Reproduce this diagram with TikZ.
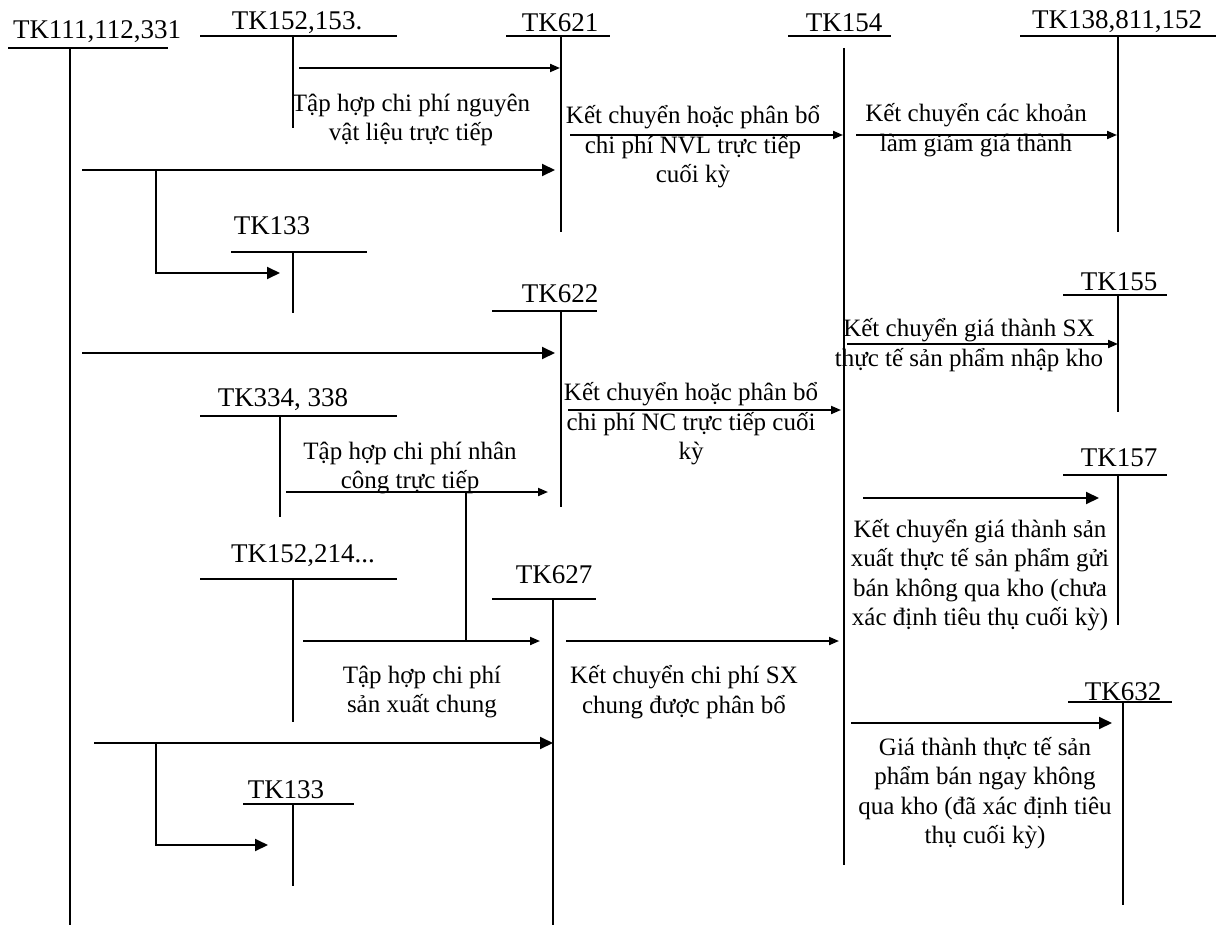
\documentclass[tikz,border=0pt]{standalone}
\usepackage{fontspec}
\setmainfont{Liberation Serif}
\usetikzlibrary{arrows.meta}

\tikzset{
  acct/.style={line width=2.2pt},
  tklabel/.style={font=\fontsize{27}{31}\selectfont, inner sep=0pt},
  note/.style={font=\fontsize{25}{29.5}\selectfont, align=center, inner sep=0pt},
  flow/.style={line width=1.9pt},
  bigarr/.style={flow, -{Triangle[length=13pt,width=12pt]}},
  smallarr/.style={flow, -{Triangle[length=10pt,width=8pt]}}
}

\begin{document}
\begin{tikzpicture}[x=1pt, y=-1pt]
    \useasboundingbox (0,0) rectangle (1222,925);

    % TK111,112,331 (far left)
    \draw[acct] (8,48) -- (168,48);
    \draw[acct] (70,48) -- (70,925);
    \node[tklabel] (tk111) at (97,32) {TK111,112,331};

    % TK152,153.
    \draw[acct] (200,36) -- (397,36);
    \draw[acct] (293,36) -- (293,128);
    \node[tklabel] (tk152a) at (297,23) {TK152,153.};

    % TK621
    \draw[acct] (506,36) -- (610,36);
    \draw[acct] (561,36) -- (561,232);
    \node[tklabel] (tk621) at (560,23) {TK621};

    % TK154
    \draw[acct] (788,36) -- (891,36);
    \draw[acct] (844,48) -- (844,865);
    \node[tklabel] (tk154) at (844,23) {TK154};

    % TK138,811,152
    \draw[acct] (1020,36) -- (1216,36);
    \draw[acct] (1118,36) -- (1118,232);
    \node[tklabel] (tk138) at (1117,22) {TK138,811,152};

    % TK133 (upper)
    \draw[acct] (231,252) -- (367,252);
    \draw[acct] (293,252) -- (293,313);
    \node[tklabel] (tk133a) at (272,226) {TK133};

    % TK622
    \draw[acct] (492,311) -- (597,311);
    \draw[acct] (561,311) -- (561,507);
    \node[tklabel] (tk622) at (560,294) {TK622};

    % TK155
    \draw[acct] (1063,295) -- (1167,295);
    \draw[acct] (1118,295) -- (1118,412);
    \node[tklabel] (tk155) at (1119,282) {TK155};

    % TK334, 338
    \draw[acct] (200,416) -- (397,416);
    \draw[acct] (280,416) -- (280,517);
    \node[tklabel] (tk334) at (283,400) {TK334, 338};

    % TK157
    \draw[acct] (1063,475) -- (1167,475);
    \draw[acct] (1118,475) -- (1118,625);
    \node[tklabel] (tk157) at (1119,458) {TK157};

    % TK152,214...
    \draw[acct] (200,579) -- (397,579);
    \draw[acct] (293,579) -- (293,722);
    \node[tklabel] (tk152b) at (303,556) {TK152,214...};

    % TK627
    \draw[acct] (492,599) -- (596,599);
    \draw[acct] (553,599) -- (553,925);
    \node[tklabel] (tk627) at (554,575) {TK627};

    % TK632
    \draw[acct] (1068,702) -- (1172,702);
    \draw[acct] (1123,702) -- (1123,905);
    \node[tklabel] (tk632) at (1123,692) {TK632};

    % TK133 (lower)
    \draw[acct] (243,804) -- (354,804);
    \draw[acct] (293,804) -- (293,886);
    \node[tklabel] (tk133b) at (286,790) {TK133};

    % Arrow end points
    \coordinate (nvl-s) at (299,68);   \coordinate (nvl-e) at (560,68);
    \coordinate (m1-s) at (82,170);    \coordinate (m1-e) at (555,170);
    \coordinate (m1-b) at (156,170);   \coordinate (m1-c) at (156,273);
    \coordinate (m1-v) at (280,273);
    \coordinate (k621-s) at (570,135); \coordinate (k621-e) at (843,135);
    \coordinate (gg-s) at (856,135);   \coordinate (gg-e) at (1117,135);
    \coordinate (m2-s) at (82,353);    \coordinate (m2-e) at (555,353);
    \coordinate (nk-s) at (847,344);   \coordinate (nk-e) at (1118,344);
    \coordinate (k622-s) at (568,410); \coordinate (k622-e) at (841,410);
    \coordinate (nc-s) at (286,492);   \coordinate (nc-e) at (548,492);
    \coordinate (nc-b) at (466,492);   \coordinate (nc-c) at (466,641);
    \coordinate (gb-s) at (863,498);   \coordinate (gb-e) at (1099,498);
    \coordinate (sxc-s) at (303,641);  \coordinate (sxc-e) at (540,641);
    \coordinate (k627-s) at (566,641); \coordinate (k627-e) at (839,641);
    \coordinate (m3-s) at (94,743);    \coordinate (m3-e) at (553,743);
    \coordinate (m3-b) at (156,743);   \coordinate (m3-c) at (156,845);
    \coordinate (m3-v) at (268,845);
    \coordinate (bn-s) at (851,723);   \coordinate (bn-e) at (1112,723);

    % Arrows
    \draw[smallarr] (nvl-s) -- (nvl-e);
    \draw[bigarr] (m1-s) -- (m1-e);
    \draw[bigarr] (m1-b) -- (m1-c) -- (m1-v);
    \draw[smallarr] (k621-s) -- (k621-e);
    \draw[smallarr] (gg-s) -- (gg-e);
    \draw[bigarr] (m2-s) -- (m2-e);
    \draw[smallarr] (nk-s) -- (nk-e);
    \draw[smallarr] (k622-s) -- (k622-e);
    \draw[smallarr] (nc-s) -- (nc-e);
    \draw[flow] (nc-b) -- (nc-c);
    \draw[bigarr] (gb-s) -- (gb-e);
    \draw[smallarr] (sxc-s) -- (sxc-e);
    \draw[smallarr] (k627-s) -- (k627-e);
    \draw[bigarr] (m3-s) -- (m3-e);
    \draw[bigarr] (m3-b) -- (m3-c) -- (m3-v);
    \draw[bigarr] (bn-s) -- (bn-e);

    % Texts
    \node[note] (t-nvl) at (411,120) {Tập hợp chi phí nguyên\\vật liệu trực tiếp};
    \node[note] (t-k621) at (693,147) {Kết chuyển hoặc phân bổ\\chi phí NVL trực tiếp\\cuối kỳ};
    \node[note] (t-gg) at (976,130) {Kết chuyển các khoản\\làm giảm giá thành};
    \node[note] (t-nk) at (969,345) {Kết chuyển giá thành SX\\thực tế sản phẩm nhập kho};
    \node[note] (t-k622) at (691,424) {Kết chuyển hoặc phân bổ\\chi phí NC trực tiếp cuối\\kỳ};
    \node[note] (t-nc) at (410,468) {Tập hợp chi phí nhân\\công trực tiếp};
    \node[note] (t-gb) at (980,575) {Kết chuyển giá thành sản\\xuất thực tế sản phẩm gửi\\bán không qua kho (chưa\\xác định tiêu thụ cuối kỳ)};
    \node[note] (t-sxc) at (422,692) {Tập hợp chi phí\\sản xuất chung};
    \node[note] (t-k627) at (684,692) {Kết chuyển chi phí SX\\chung được phân bổ};
    \node[note] (t-bn) at (985,793) {Giá thành thực tế sản\\phẩm bán ngay không\\qua kho (đã xác định tiêu\\thụ cuối kỳ)};
\end{tikzpicture}
\end{document}
